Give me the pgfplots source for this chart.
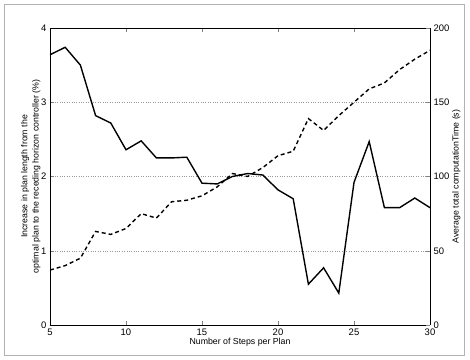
\documentclass[border=0pt]{standalone}
\usepackage{pgfplots}
\pgfplotsset{compat=1.18}
\usepackage{fontspec}
\setmainfont{Liberation Sans}
\begin{document}
\begin{tikzpicture}[x=1bp,y=1bp]
\path[use as bounding box] (-50bp,-35bp) rectangle (420bp,325bp);
\draw[gray!60,line width=1pt] (-46bp,-30bp) rectangle (414bp,320bp);
\pgfplotsset{
  every axis/.append style={
    width=380bp, height=297bp, scale only axis,
    at={(0,0)}, anchor=south west,
    xmin=5, xmax=30,
    tick align=inside,
    major tick length=4bp,
    tick label style={font=\fontsize{9.5}{11}\selectfont},
    label style={font=\fontsize{8.8}{10.5}\selectfont},
    /pgf/number format/assume math mode=true,
  }
}
\begin{axis}[
  ymin=0, ymax=4,
  xtick={5,10,...,30},
  ytick={0,1,2,3,4},
  axis y line*=left,
  axis x line*=box,
  ymajorgrids,
  major grid style={dotted, gray!80, line width=0.5pt},
  xlabel={Number of Steps per Plan},
  ylabel={\shortstack{Increase in plan length from the\\optimal plan to the receding horizon controller (\%)}},
  xlabel style={yshift=4bp},
  ylabel style={yshift=-6bp},
]
\addplot[black, line width=1.4pt] coordinates {
(5,3.64) (6,3.74) (7,3.50) (8,2.82) (9,2.72) (10,2.36) (11,2.48) (12,2.25)
(13,2.25) (14,2.26) (15,1.91) (16,1.90) (17,2.00) (18,2.04) (19,2.02) (20,1.82)
(21,1.70) (22,0.55) (23,0.77) (24,0.43) (25,1.92) (26,2.47) (27,1.58) (28,1.58)
(29,1.71) (30,1.58)};
\end{axis}
\begin{axis}[
  ymin=0, ymax=200,
  ytick={0,50,100,150,200},
  axis y line*=right,
  axis x line=none,
  ylabel={Average total computationTime (s)},
  ylabel style={yshift=4bp},
]
\addplot[black, line width=1.4pt, dash pattern=on 4pt off 3pt] coordinates {
(5,37) (6,40) (7,45) (8,63) (9,61) (10,65) (11,75) (12,72) (13,83) (14,84)
(15,87) (16,93) (17,102) (18,100) (19,106) (20,114) (21,117) (22,139) (23,131)
(24,141) (25,150) (26,159) (27,163) (28,172) (29,179) (30,185)};
\end{axis}
\end{tikzpicture}
\end{document}
